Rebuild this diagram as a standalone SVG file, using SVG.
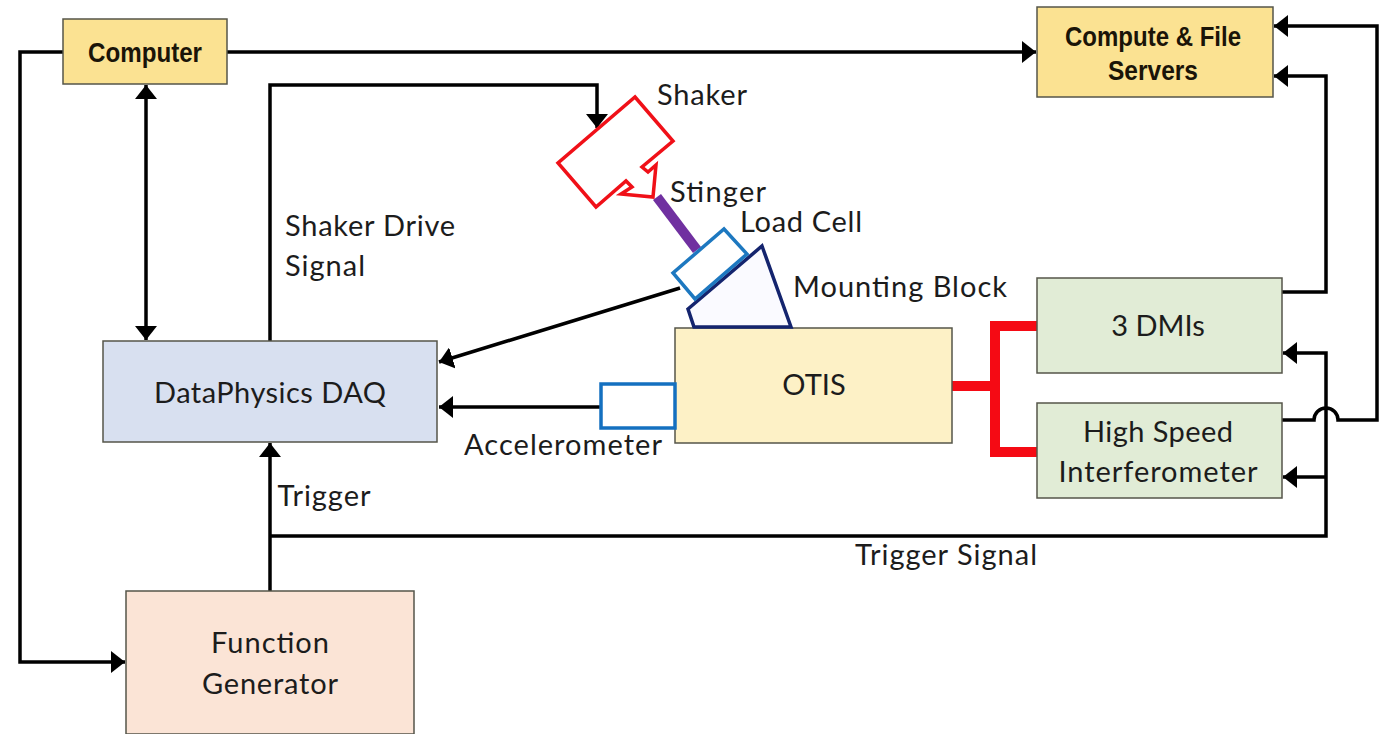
<svg xmlns="http://www.w3.org/2000/svg" width="1383" height="734" viewBox="0 0 1383 734">
<style>
text{font-family:Lato,"Open Sans","Noto Sans",sans-serif;font-size:29px;fill:#1c1c1c;text-anchor:middle}
.b{font-family:"Liberation Sans",Arial,sans-serif;font-weight:700;font-size:27px;fill:#1a1408}
.n{stroke:#55554a;stroke-width:1.5}
.c{fill:none;stroke:#000;stroke-width:3.5}
.r{fill:none;stroke:#f50a14;stroke-width:10}
</style>
<defs>
<marker id="a" markerUnits="userSpaceOnUse" markerWidth="15" markerHeight="22" refX="14" refY="11" orient="auto-start-reverse"><path d="M0 0L14 11L0 22Z" fill="#000"/></marker>
</defs>
<rect width="1383" height="734" fill="#fff"/>
<g id="connectors">
<path class="c" d="M63 52H20V662H125" marker-end="url(#a)"/>
<path class="c" d="M227 52H1036" marker-end="url(#a)"/>
<path class="c" d="M146 85V340" marker-start="url(#a)" marker-end="url(#a)"/>
<path class="c" d="M270 341V85H597V128" marker-end="url(#a)"/>
<path class="c" d="M680 288L439 362" marker-end="url(#a)"/>
<path class="c" d="M601 407H439" marker-end="url(#a)"/>
<path class="c" d="M270 591V443" marker-end="url(#a)"/>
<path class="c" d="M270 536H1326V353H1283" marker-end="url(#a)"/>
<path class="c" d="M1326 477H1283" marker-end="url(#a)"/>
<path class="c" d="M1282 292H1326V76H1274" marker-end="url(#a)"/>
<path class="c" d="M1282 420H1314A12 12 0 0 1 1338 420H1377V26H1274" marker-end="url(#a)"/>
<path class="r" d="M952 386H995M1037 326H995V452H1037"/>
</g>
<g id="computer"><rect class="n" x="63" y="19" width="164" height="65" fill="#fbe292"/><text class="b" x="145" y="62" textLength="114" lengthAdjust="spacingAndGlyphs">Computer</text></g>
<g id="servers"><rect class="n" x="1037" y="7" width="236" height="90" fill="#fbe292"/><text class="b" x="1153" y="46" textLength="176" lengthAdjust="spacingAndGlyphs">Compute &amp; File</text><text class="b" x="1153" y="80" textLength="90" lengthAdjust="spacingAndGlyphs">Servers</text></g>
<g id="daq"><rect class="n" x="103" y="341" width="334" height="101" fill="#d8e0f0"/><text x="270" y="403" textLength="232">DataPhysics DAQ</text></g>
<g id="otis"><rect class="n" x="675" y="328" width="277" height="115" fill="#fdf1c6"/><text x="814" y="395">OTIS</text></g>
<g id="dmis"><rect class="n" x="1037" y="278" width="245" height="95" fill="#e1ecd6"/><text x="1158" y="336">3 DMIs</text></g>
<g id="interferometer"><rect class="n" x="1037" y="403" width="245" height="95" fill="#e1ecd6"/><text x="1158" y="442" textLength="150">High Speed</text><text x="1158" y="482" textLength="199">Interferometer</text></g>
<g id="generator"><rect class="n" x="126" y="591" width="288" height="143" fill="#fbe4d6"/><text x="270" y="653" textLength="118">Function</text><text x="270" y="694" textLength="136">Generator</text></g>
<g id="shaker"><path d="M635 97L673 141L642 167L648 172L656 165L653 197L621 194L632 187L626 181L596 207L558 163Z" fill="#fff" stroke="#f01018" stroke-width="3.5"/></g>
<g id="stinger"><path d="M657 197L697 250" stroke="#7030a0" stroke-width="10" fill="none"/></g>
<g id="mounting-block"><path d="M762 246L791 327H694L688 309Z" fill="#fafaff" stroke="#14246e" stroke-width="3.5"/></g>
<g id="load-cell"><path d="M724 229L747 254L695 299L673 273Z" fill="#fff" stroke="#1d78c0" stroke-width="3.5"/></g>
<g id="accelerometer"><rect x="601" y="384" width="74" height="44" fill="#fff" stroke="#1470c0" stroke-width="3.5"/></g>
<g id="labels">
<text x="702" y="105" textLength="90">Shaker</text>
<text x="718" y="202" textLength="96">Stinger</text>
<text x="801" y="232" textLength="122">Load Cell</text>
<text x="900" y="297" textLength="214">Mounting Block</text>
<text x="370" y="236" textLength="170">Shaker Drive</text>
<text x="325" y="276" textLength="80">Signal</text>
<text x="563" y="455" textLength="198">Accelerometer</text>
<text x="324" y="506" textLength="93">Trigger</text>
<text x="946" y="565" textLength="182">Trigger Signal</text>
</g>
</svg>
